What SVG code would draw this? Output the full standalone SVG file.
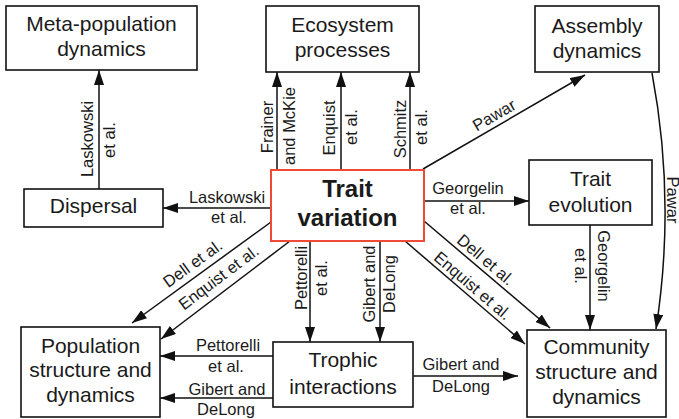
<svg xmlns="http://www.w3.org/2000/svg" width="679" height="419" viewBox="0 0 679 419">
<defs>
<marker id="ah" markerUnits="userSpaceOnUse" markerWidth="15" markerHeight="10" refX="15" refY="5" orient="auto">
<path d="M0,0 L15,5 L0,10 z" fill="#111"/>
</marker>
<style>
.box{fill:#fff;stroke:#111;stroke-width:1.6}
.hot{fill:#fff;stroke:#ee4a36;stroke-width:2}
.bt{font-family:"Liberation Sans",Arial,sans-serif;font-size:21px;fill:#1a1a1a;text-anchor:middle}
.bb{font-family:"Liberation Sans",Arial,sans-serif;font-size:24px;font-weight:bold;fill:#1a1a1a;text-anchor:middle}
.lb{font-family:"Liberation Sans",Arial,sans-serif;font-size:16.5px;fill:#1a1a1a;text-anchor:middle}
.ln{fill:none;stroke:#111;stroke-width:1.5;marker-end:url(#ah)}
</style>
</defs>
<rect width="679" height="419" fill="#fff"/>

<g id="connectors">
<path class="ln" d="M99,189 V70"/>
<path class="ln" d="M277,170 V72"/>
<path class="ln" d="M341,170 V72"/>
<path class="ln" d="M410,170 V72"/>
<path class="ln" d="M423,169 L585,75"/>
<path class="ln" d="M271,208 H163"/>
<path class="ln" d="M424,201 H529"/>
<path class="ln" d="M652,73 Q676,200 656,329"/>
<path class="ln" d="M590,225 V330"/>
<path class="ln" d="M271,222 L132,323"/>
<path class="ln" d="M290,241 L161,339"/>
<path class="ln" d="M424,221 L550,328"/>
<path class="ln" d="M405,241 L525,344"/>
<path class="ln" d="M310,241 V342"/>
<path class="ln" d="M380,241 V342"/>
<path class="ln" d="M273,356 H160"/>
<path class="ln" d="M273,398 H160"/>
<path class="ln" d="M413,376 H518"/>

<text class="lb" transform="translate(93,139) rotate(-90)">Laskowski</text>
<text class="lb" transform="translate(115,140) rotate(-90)">et al.</text>
<text class="lb" transform="translate(273,127) rotate(-90)">Frainer</text>
<text class="lb" transform="translate(295,126) rotate(-90)">and McKie</text>
<text class="lb" transform="translate(335,128) rotate(-90)">Enquist</text>
<text class="lb" transform="translate(357,127) rotate(-90)">et al.</text>
<text class="lb" transform="translate(406,129) rotate(-90)">Schmitz</text>
<text class="lb" transform="translate(427,127) rotate(-90)">et al.</text>
<text class="lb" transform="translate(497,120) rotate(-30)">Pawar</text>
<text class="lb" transform="translate(667,200) rotate(90)">Pawar</text>
<text class="lb" x="227" y="203">Laskowski</text>
<text class="lb" x="229" y="223">et al.</text>
<text class="lb" x="468" y="194">Georgelin</text>
<text class="lb" x="468" y="214">et al.</text>
<text class="lb" transform="translate(598,266) rotate(90)">Georgelin</text>
<text class="lb" transform="translate(575,266) rotate(90)">et al.</text>
<text class="lb" transform="translate(196,268) rotate(-36)">Dell et al.</text>
<text class="lb" transform="translate(222,282) rotate(-37)">Enquist et al.</text>
<text class="lb" transform="translate(482,264) rotate(40.5)">Dell et al.</text>
<text class="lb" transform="translate(469,290) rotate(40.5)">Enquist et al.</text>
<text class="lb" transform="translate(307,278) rotate(-90)">Pettorelli</text>
<text class="lb" transform="translate(327,278) rotate(-90)">et al.</text>
<text class="lb" transform="translate(375,284) rotate(-90)">Gibert and</text>
<text class="lb" transform="translate(395,284) rotate(-90)">DeLong</text>
<text class="lb" x="228" y="351">Pettorelli</text>
<text class="lb" x="226" y="372">et al.</text>
<text class="lb" x="227" y="395">Gibert and</text>
<text class="lb" x="226" y="415">DeLong</text>
<text class="lb" x="461" y="370">Gibert and</text>
<text class="lb" x="461" y="392">DeLong</text>
</g>

<g id="meta">
<rect class="box" x="6" y="6" width="191" height="64"/>
<text class="bt" x="101.5" y="31">Meta-population</text>
<text class="bt" x="101.5" y="56">dynamics</text>
</g>
<g id="ecosystem">
<rect class="box" x="266" y="6" width="153" height="66"/>
<text class="bt" x="342.5" y="32">Ecosystem</text>
<text class="bt" x="342.5" y="57">processes</text>
</g>
<g id="assembly">
<rect class="box" x="535" y="6" width="124" height="66"/>
<text class="bt" x="597" y="33">Assembly</text>
<text class="bt" x="597" y="58">dynamics</text>
</g>
<g id="dispersal">
<rect class="box" x="24" y="189" width="139" height="38"/>
<text class="bt" x="93.5" y="213">Dispersal</text>
</g>
<g id="traitvariation">
<rect class="hot" x="271" y="170" width="153" height="71"/>
<text class="bb" x="347.5" y="197">Trait</text>
<text class="bb" x="347.5" y="226">variation</text>
</g>
<g id="traitevolution">
<rect class="box" x="529" y="160" width="123" height="65"/>
<text class="bt" x="590.5" y="186">Trait</text>
<text class="bt" x="590.5" y="212">evolution</text>
</g>
<g id="population">
<rect class="box" x="21" y="327" width="139" height="90"/>
<text class="bt" x="90.5" y="353">Population</text>
<text class="bt" x="90.5" y="377">structure and</text>
<text class="bt" x="90.5" y="402">dynamics</text>
</g>
<g id="trophic">
<rect class="box" x="273" y="342" width="140" height="65"/>
<text class="bt" x="343" y="367">Trophic</text>
<text class="bt" x="343" y="394">interactions</text>
</g>
<g id="community">
<rect class="box" x="527" y="330" width="139" height="87"/>
<text class="bt" x="596.5" y="354">Community</text>
<text class="bt" x="596.5" y="379">structure and</text>
<text class="bt" x="596.5" y="404">dynamics</text>
</g>
</svg>
